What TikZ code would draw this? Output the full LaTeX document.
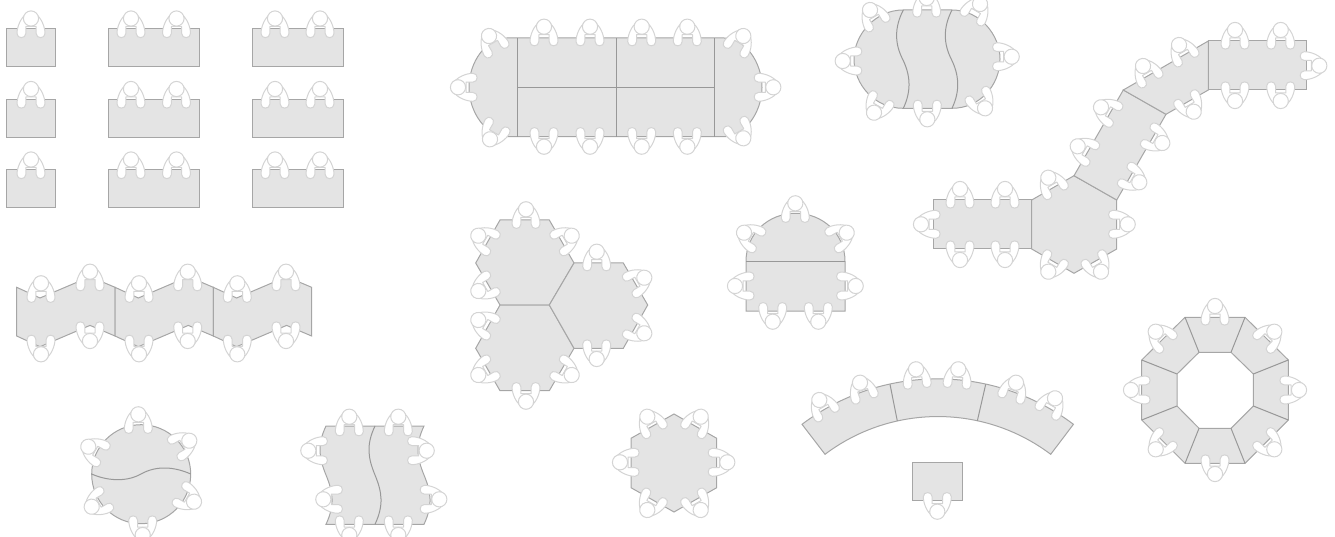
\documentclass[tikz,border=0pt]{standalone}
\usepackage{xcolor}
\definecolor{tablegray}{HTML}{E4E4E4}
\definecolor{tableline}{HTML}{A6A6A6}
\definecolor{seamline}{HTML}{989898}
\definecolor{sitterline}{HTML}{D4D4D4}
\usepackage{tikz}
\tikzset{
  tabletop/.style={draw=tableline,line width=1pt,fill=tablegray,line join=miter},
  seam/.style={draw=seamline,line width=1pt},
  sitterbody/.style={draw=sitterline,line width=1pt,fill=white,line join=round},
  sitter/.pic={
    \draw[sitterbody] (-14,15) .. controls (-14,8) and (-10,-1) .. (-5,-4) -- (5,-4)
      .. controls (10,-1) and (14,8) .. (14,15)
      .. controls (14,20.5) and (5.2,20.5) .. (5.2,15) -- (5.2,8) -- (-5.2,8) -- (-5.2,15)
      .. controls (-5.2,20.5) and (-14,20.5) .. (-14,15) -- cycle;
    \draw[sitterbody] (0,0) circle (7.6);
  }
}

\begin{document}
\begin{tikzpicture}[x=1pt,y=-1pt]
  \useasboundingbox (0,0) rectangle (1335,537);

  % Rows of straight tables
  \foreach \y in {29,99.5,170} {
    \draw[tabletop] (6,\y) rectangle ++(49.5,38);
    \draw[tabletop] (108,\y) rectangle ++(91,38);
    \draw[tabletop] (252,\y) rectangle ++(91,38);
  }

  % Long table with round ends
  \draw[tabletop] (518,38) -- (714.3,38) -- (724,38) .. controls (745,38) and (762,62) .. (762,87.3)
    .. controls (762,112) and (745,136.7) .. (724,136.7) -- (507,136.7)
    .. controls (486,136.7) and (469,112) .. (469,87.3) .. controls (469,62) and (486,38) .. (507,38) -- cycle;
  \draw[seam] (517.7,38) -- (517.7,136.7) (616,38) -- (616,136.7) (714.3,38) -- (714.3,136.7) (517.7,87.3) -- (714.3,87.3);

  % Oval table with wavy joints
  \draw[tabletop] (903,10) -- (952,10) .. controls (980,10) and (1000,35) .. (1000,59)
    .. controls (1000,85) and (980,108.3) .. (952,108.3) -- (903,108.3)
    .. controls (875,108.3) and (854,85) .. (854,59) .. controls (854,35) and (875,10) .. (903,10) -- cycle;
  \foreach \dx in {0,48.7} {
    \draw[seam,xshift=\dx] (903.3,10) .. controls (894,28) and (895,44) .. (902.5,59)
      .. controls (910,74) and (912,90) .. (903.3,108.3);
  }

  % Chain of tables on the upper right
  \draw[tabletop] (933.3,200) rectangle (1031.7,249);
  \draw[tabletop] (1031.7,200) -- (1074,175.7) -- (1116.7,200) -- (1116.7,249) -- (1074,273.3) -- (1031.7,249) -- cycle;
  \draw[tabletop] (1074,175.7) -- (1123.3,90) -- (1166,114.3) -- (1116.7,200) -- cycle;
  \draw[tabletop] (1123.3,90) -- (1208.3,41) -- (1208.3,90) -- (1166,114.3) -- cycle;
  \draw[tabletop] (1208.3,41) rectangle (1306.7,90);

  % Three hexagons
  \draw[tabletop] (500,220) -- (549.3,220) -- (574,263) -- (549.3,305) -- (500,305) -- (475.7,263) -- cycle;
  \draw[tabletop] (500,305) -- (549.3,305) -- (574,348.3) -- (549.3,390.7) -- (500,390.7) -- (475.7,348.3) -- cycle;
  \draw[tabletop] (574,263) -- (623.3,263) -- (647.7,305) -- (623.3,348.3) -- (574,348.3) -- (549.3,305) -- cycle;

  % Table with half round
  \draw[tabletop] (746,261.3) .. controls (746,234) and (768,213.3) .. (795.5,213.3)
    .. controls (823,213.3) and (845,234) .. (845,261.3) -- (845,311) -- (746,311) -- cycle;
  \draw[seam] (746,261.3) -- (845,261.3);

  % Single hexagon
  \draw[tabletop] (674,414) -- (716.7,438.3) -- (716.7,487.7) -- (674,512) -- (631,487.7) -- (631,438.3) -- cycle;

  % Curved row and the lone table
  \draw[tabletop] (802,424.3) arc[start angle=127,end angle=53,radius=225.5pt]
    -- (1050.7,454.3) arc[start angle=53,end angle=127,radius=187.5pt] -- cycle;
  \draw[seam] (890,384.3) -- (897.3,421) (985.7,384.3) -- (977.3,421);
  \draw[tabletop] (912.7,462.7) rectangle (962.3,500.7);

  % Ring of eight
  \draw[tabletop,even odd rule] (1185,317.3) -- (1245,317.3) -- (1288.3,360) -- (1288.3,420) -- (1245,463.3) -- (1185,463.3) -- (1141.7,420) -- (1141.7,360) -- cycle
    (1199,352.3) -- (1231,352.3) -- (1253.3,374) -- (1253.3,406) -- (1231,428.3) -- (1199,428.3) -- (1177,406) -- (1177,374) -- cycle;
  \draw[seam] (1185,317.3) -- (1199,352.3) (1245,317.3) -- (1231,352.3) (1288.3,360) -- (1253.3,374) (1288.3,420) -- (1253.3,406)
    (1245,463.3) -- (1231,428.3) (1185,463.3) -- (1199,428.3) (1141.7,420) -- (1177,406) (1141.7,360) -- (1177,374);

  % Zigzag row
  \foreach \x in {16.7,115,213.3} {
    \draw[tabletop,xshift=\x] (0,287.3) -- (23.3,298) -- (73.3,276.7) -- (98.3,287.3) -- (98.3,336) -- (73.3,325.4) -- (23.3,346.7) -- (0,336) -- cycle;
  }

  % Round table
  \draw[tabletop] (141.2,474.2) circle (49.5);
  \draw[seam] (91.7,474) .. controls (105,480) and (125,483) .. (141,474) .. controls (157,465) and (175,467) .. (190.7,474);

  % Wavy double table
  \draw[tabletop] (326,426) -- (424,426) .. controls (415,445) and (417,458) .. (424,475)
    .. controls (431,492) and (433,505) .. (424,524.3) -- (326,524.3)
    .. controls (335,505) and (333,492) .. (326,475) .. controls (319,458) and (317,445) .. (326,426) -- cycle;
  \draw[seam] (375,426) .. controls (366,445) and (368,458) .. (375,475) .. controls (382,492) and (384,505) .. (375,524.3);

  % Everybody sitting down
  \foreach \x/\y/\a in {
    31/18.5/90,131/18.5/90,176.5/18.5/90,275/18.5/90,320/18.5/90,
    31/89/90,131/89/90,176.5/89/90,275/89/90,320/89/90,
    31/159.5/90,131/159.5/90,176.5/159.5/90,275/159.5/90,320/159.5/90,
    544/26.7/90,590/26.7/90,641.7/26.7/90,687.3/26.7/90,
    544/146.7/270,590/146.7/270,641.7/146.7/270,687.3/146.7/270,
    458/87.3/180,773.3/87.3/0,489/36/120,743.3/36/60,490/139.3/240,743.3/138.3/300,
    926.7/-2/90,927.3/119.3/270,842.7/61/180,1011.7/56.7/0,870/10/120,980/4/60,874/112.7/240,985/108.3/300,
    960/189/90,1005/189/90,960/260/270,1005/260/270,921/224.3/180,
    1048.3/177.7/120,1127.7/224.3/0,1048.3/271.7/240,1101/271.7/300,
    1101/107.3/150,1077.7/146.3/150,1162.3/143/330,1139.3/182.3/330,
    1143/66/120,1179/45/120,1193.7/111.7/300,
    1235/30/90,1280.7/30/90,1235/101/270,1280.7/101/270,1319.3/65.7/0,
    526/209.3/90,571.7/235.7/30,478.3/235.7/150,478.3/291/210,
    478.3/320/150,478.3/375/210,526/401.7/270,571.7/375/330,
    596.7/251.7/90,644.3/277.7/30,644.3/333.3/330,596.7/359/270,
    795.3/203.3/90,744/232.7/150,846.7/232.7/30,735/286/180,855.7/286/0,772.7/321.7/270,818.3/321.7/270,
    647.3/416.7/120,700.7/416.7/60,620/462.3/180,727.3/462.3/0,647.3/510/240,700.7/510/300,
    819.3/400/120,860/382.7/109,916/369.3/95,958.3/369.3/85,1016/382.7/71,1055/398.3/60,937.3/511.7/270,
    1215/306/90,1274.3/331.7/45,1299/390/0,1274.3/449.3/315,1215/474/270,1155.7/449.3/225,1131/390/180,1155.7/331.7/135,
    41/283.3/90,90/271.7/90,139/283.3/90,187.7/271.7/90,237.3/283.3/90,286/271.7/90,
    41/354.3/270,90/341/270,139/354.3/270,187.7/341/270,237.3/354.3/270,286/341/270,
    138.3/414.3/90,189.3/440.7/30,88.3/446.7/150,194/501.7/330,91.7/506.7/210,142.7/535/270,
    349.3/416.7/90,398.3/416.7/90,308.3/450.7/180,323.3/499.3/180,426.7/450.7/0,439.3/499.3/0,349.3/535/270,398.3/535/270
  } {
    \pic[rotate=\a-90] at (\x,\y) {sitter};
  }
\end{tikzpicture}
\end{document}
